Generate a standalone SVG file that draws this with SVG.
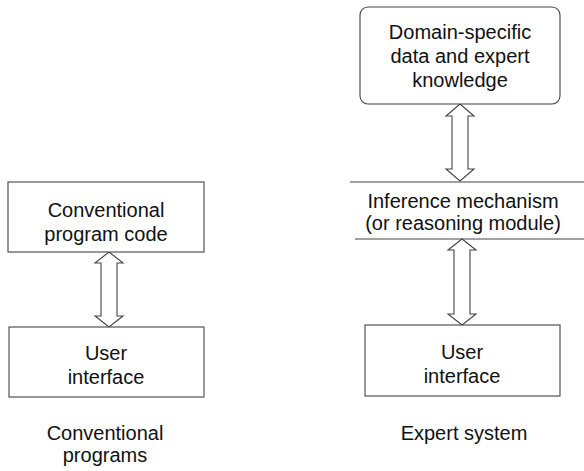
<svg xmlns="http://www.w3.org/2000/svg" width="584" height="471" viewBox="0 0 584 471">
<style>
.box{fill:#fff;stroke:#444;stroke-width:1.1}
.ln{fill:none;stroke:#444;stroke-width:1.1}
.arr{fill:#fff;stroke:#444;stroke-width:1.1;stroke-linejoin:miter}
text{font-family:"Liberation Sans",Arial,sans-serif;font-size:20px;fill:#111;text-anchor:middle}
</style>
<rect width="584" height="471" fill="#fff"/>
<g id="connectors">
<path class="arr" d="M109,252 L123,263 L117,263 L117,316 L123,316 L109,327 L95,316 L101,316 L101,263 L95,263 Z"/>
<path class="arr" d="M460,104 L474,116 L468,116 L468,169 L474,169 L460,181 L446,169 L452,169 L452,116 L446,116 Z"/>
<path class="arr" d="M462,239 L476,250 L470,250 L470,314 L476,314 L462,325 L448,314 L454,314 L454,250 L448,250 Z"/>
</g>
<g id="conv-code">
<rect class="box" x="8" y="182" width="196" height="70"/>
<text x="106" y="217">Conventional</text>
<text x="106" y="241">program code</text>
</g>
<g id="conv-ui">
<rect class="box" x="9" y="327" width="195" height="70"/>
<text x="106" y="360">User</text>
<text x="106" y="384">interface</text>
</g>
<g id="conv-caption">
<text x="105" y="440">Conventional</text>
<text x="105" y="462">programs</text>
</g>
<g id="domain">
<rect class="box" x="360" y="7" width="200" height="97" rx="8"/>
<text x="460" y="39">Domain-specific</text>
<text x="460" y="63">data and expert</text>
<text x="460" y="87">knowledge</text>
</g>
<g id="inference">
<path class="ln" d="M350,182 H584 M355,239 H584"/>
<text x="463" y="208">Inference mechanism</text>
<text x="463" y="230">(or reasoning module)</text>
</g>
<g id="expert-ui">
<rect class="box" x="365" y="325" width="195" height="71"/>
<text x="462" y="359">User</text>
<text x="462" y="383">interface</text>
</g>
<g id="expert-caption">
<text x="464" y="440">Expert system</text>
</g>
</svg>
